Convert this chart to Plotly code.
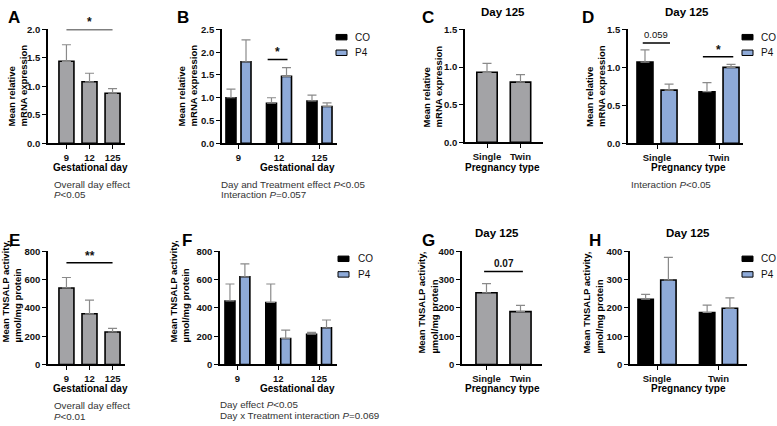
import plotly.graph_objects as go

W, H = 777, 426

# ---------------- data ----------------
days = ["9", "12", "125"]
preg = ["Single", "Twin"]

A_mean = [1.44, 1.08, 0.88]
A_sem = [0.29, 0.15, 0.08]

B_co_mean = [1.00, 0.88, 0.93]
B_co_sem = [0.19, 0.12, 0.13]
B_p4_mean = [1.79, 1.47, 0.81]
B_p4_sem = [0.48, 0.19, 0.08]

C_mean = [0.93, 0.80]
C_sem = [0.12, 0.10]

D_co_mean = [1.07, 0.68]
D_co_sem = [0.16, 0.12]
D_p4_mean = [0.70, 1.00]
D_p4_sem = [0.08, 0.04]

E_mean = [542, 359, 230]
E_sem = [74, 96, 25]

F_co_mean = [450, 439, 214]
F_co_sem = [120, 131, 14]
F_p4_mean = [621, 184, 260]
F_p4_sem = [92, 60, 55]

G_mean = [254, 187]
G_sem = [32, 22]

H_co_mean = [231, 184]
H_co_sem = [17, 26]
H_p4_mean = [299, 199]
H_p4_sem = [80, 37]

# significance bars: (panel, x0, x1, y, label, bold, size)
sig_bars = [
    ("A", 0.0, 2.0, 2.0, "*", True, 12),
    ("B", 0.72, 1.21, 1.84, "*", True, 12),
    ("D", -0.23, 0.21, 1.32, "0.059", False, 9.5),
    ("D", 0.74, 1.23, 1.14, "*", True, 12),
    ("E", 0.0, 2.0, 720, "**", True, 12),
    ("G", -0.07, 1.07, 329, "0.07", True, 10),
]

GREY = "#a3a3a6"
BLUE = "#8eaad8"
BLACK = "#000000"
ERR = "#8a8a8a"
FONT = "Liberation Sans, Arial, sans-serif"

# ---------------- layout geometry (pixels) ----------------
# name: (x0, x1, ytop, ybottom, xrange, ymax, dtick, tickformat, categories)
panels = {
    "A": (48, 125, 24, 141, [-0.8, 2.54], 2.0, 0.5, ".1f", days),
    "B": (222, 337, 24, 141, [-0.407, 2.432], 2.5, 0.5, ".1f", days),
    "C": (465, 543, 24, 140, [-0.657, 1.672], 1.5, 0.5, ".1f", preg),
    "D": (628, 743, 24, 141, [-0.468, 1.387], 1.5, 0.5, ".1f", preg),
    "E": (48, 125, 252, 368, [-0.8, 2.54], 800, 200, "d", days),
    "F": (220, 337, 252, 368, [-0.427, 2.44], 800, 200, "d", days),
    "G": (462, 542, 252, 368, [-0.72, 1.632], 400, 100, "d", preg),
    "H": (630, 747, 252, 368, [-0.439, 1.463], 400, 100, "d", preg),
}
order = ["A", "B", "C", "D", "E", "F", "G", "H"]
axis_idx = {k: i + 1 for i, k in enumerate(order)}


def axnames(k):
    i = axis_idx[k]
    return ("x" if i == 1 else f"x{i}"), ("y" if i == 1 else f"y{i}")


fig = go.Figure()


def add_bar(k, mean, sem, color, offset, width, name):
    xa, ya = axnames(k)
    cats = panels[k][8]
    fig.add_trace(go.Bar(
        x=list(range(len(cats))), y=mean, xaxis=xa, yaxis=ya, name=name,
        showlegend=False,
        marker=dict(color=color, line=dict(color=BLACK, width=1.6)),
        offset=offset, width=width,
        error_y=dict(type="data", symmetric=False, array=sem,
                     arrayminus=[0] * len(sem), color=ERR, thickness=1.2, width=4.5),
    ))


add_bar("A", A_mean, A_sem, GREY, -0.325, 0.65, "A")
add_bar("B", B_co_mean, B_co_sem, BLACK, -0.309, 0.247, "CO")
add_bar("B", B_p4_mean, B_p4_sem, BLUE, 0.062, 0.247, "P4")
add_bar("C", C_mean, C_sem, GREY, -0.305, 0.61, "C")
add_bar("D", D_co_mean, D_co_sem, BLACK, -0.323, 0.258, "CO")
add_bar("D", D_p4_mean, D_p4_sem, BLUE, 0.065, 0.258, "P4")
add_bar("E", E_mean, E_sem, GREY, -0.325, 0.65, "E")
add_bar("F", F_co_mean, F_co_sem, BLACK, -0.305, 0.244, "CO")
add_bar("F", F_p4_mean, F_p4_sem, BLUE, 0.061, 0.244, "P4")
add_bar("G", G_mean, G_sem, GREY, -0.31, 0.62, "G")
add_bar("H", H_co_mean, H_co_sem, BLACK, -0.31, 0.25, "CO")
add_bar("H", H_p4_mean, H_p4_sem, BLUE, 0.06, 0.25, "P4")

annotations = []


def ann(xp, yp, text, size=10, bold=False, xanchor="center", yanchor="middle",
        angle=0, color="#000000"):
    t = f"<b>{text}</b>" if bold else text
    annotations.append(dict(
        x=xp / W, y=1 - yp / H, xref="paper", yref="paper", text=t,
        showarrow=False, xanchor=xanchor, yanchor=yanchor, textangle=angle,
        font=dict(family=FONT, size=size, color=color), align="left",
    ))


# significance bars as line traces
for k, x0, x1, yv, lab, bold, size in sig_bars:
    xa, ya = axnames(k)
    fig.add_trace(go.Scatter(
        x=[x0, x1], y=[yv, yv], xaxis=xa, yaxis=ya, mode="lines",
        line=dict(color=BLACK, width=1.6), cliponaxis=False,
        showlegend=False, hoverinfo="skip"))
    annotations.append(dict(
        x=(x0 + x1) / 2, y=yv, xref=xa, yref=ya,
        text=(f"<b>{lab}</b>" if bold else lab),
        showarrow=False, yanchor="bottom", yshift=-2 if lab.startswith("*") else 1,
        font=dict(family=FONT, size=size, color="#111")))

# axes
layout = dict(
    width=W, height=H, autosize=False, margin=dict(l=0, r=0, t=0, b=0, pad=0),
    paper_bgcolor="white", plot_bgcolor="white", barmode="overlay",
    showlegend=False, font=dict(family=FONT, color="#111"),
)
for k in order:
    x0, x1, yt, yb, xr, ymax, dt, tf, cats = panels[k]
    i = axis_idx[k]
    xkey = "xaxis" if i == 1 else f"xaxis{i}"
    ykey = "yaxis" if i == 1 else f"yaxis{i}"
    xa, ya = axnames(k)
    layout[xkey] = dict(
        domain=[x0 / W, x1 / W], anchor=ya, range=xr,
        tickmode="array", tickvals=list(range(len(cats))), ticktext=cats,
        showline=True, linecolor=BLACK, linewidth=1.6, showgrid=False,
        ticks="outside", ticklen=4, tickwidth=1.4, tickcolor=BLACK,
        tickfont=dict(family=FONT, size=9.5, color="#111", weight="bold"),
        zeroline=False, fixedrange=True,
    )
    layout[ykey] = dict(
        domain=[1 - yb / H, 1 - yt / H], anchor=xa, range=[0, ymax],
        dtick=dt, tick0=0, tickformat=tf,
        showline=True, linecolor=BLACK, linewidth=1.6, showgrid=False,
        ticks="outside", ticklen=4, tickwidth=1.4, tickcolor=BLACK,
        tickfont=dict(family=FONT, size=9.5, color="#111", weight="bold"),
        zeroline=False, fixedrange=True,
    )

# panel letters
for lab, xp, yp in [("A", 14, 12), ("B", 183, 12), ("C", 428, 12), ("D", 588, 12),
                    ("E", 14, 241), ("F", 187, 241), ("G", 428, 241), ("H", 595, 241)]:
    ann(xp, yp, lab, size=17, bold=True)

# titles
for xp, yp in [(503, 6), (687, 6), (497, 233), (688, 233)]:
    ann(xp, yp, "Day 125", size=11.5, bold=True)

# y-axis titles
mrna = "Mean relative<br>mRNA expression"
tns = "Mean TNSALP activity,<br>µmol/mg protein"
for xp, yp, t in [(17.5, 82, mrna), (187.5, 82, mrna), (432.5, 82, mrna), (596, 82, mrna),
                  (11, 293, tns), (179, 293, tns), (427.5, 305, tns), (592.5, 305, tns)]:
    ann(xp, yp, t, size=9.5, bold=True, angle=-90)

# x-axis titles
for xp, yp, t in [(90, 166, "Gestational day"), (297, 166, "Gestational day"),
                  (502, 166, "Pregnancy type"), (688, 166, "Pregnancy type"),
                  (90, 393, "Gestational day"), (297, 393, "Gestational day"),
                  (502, 393, "Pregnancy type"), (688, 393, "Pregnancy type")]:
    ann(xp, yp, t, size=10, bold=True)

# statistical notes
NOTE = "#333333"
notes = [
    (52, 183, "Overall day effect"), (52, 194, "<i>P</i><0.05"),
    (219, 183, "Day and Treatment effect <i>P</i><0.05"), (219, 194, "Interaction <i>P</i>=0.057"),
    (629, 183, "Interaction <i>P</i><0.05"),
    (52, 410, "Overall day effect"), (52, 421, "<i>P</i><0.01"),
    (218, 409, "Day effect <i>P</i><0.05"), (218, 420, "Day x Treatment interaction <i>P</i>=0.069"),
]
for xp, yp, t in notes:
    ann(xp, yp, t, size=9.8, xanchor="left", color=NOTE)

# legends (swatches + labels)
shapes = []
for bx, by, tx in [(336, 32, 353), (742, 32, 759), (338, 259.5, 356), (742, 259.5, 759)]:
    for j, (col, lab) in enumerate([(BLACK, "CO"), (BLUE, "P4")]):
        yy = by + j * 16
        shapes.append(dict(type="rect", xref="paper", yref="paper",
                           x0=bx / W, x1=(bx + 11) / W,
                           y0=1 - (yy + 2.8) / H, y1=1 - (yy - 2.8) / H,
                           fillcolor=col, line=dict(color=BLACK, width=1)))
        ann(tx, yy, lab, size=10, xanchor="left", color="#111")

layout["shapes"] = shapes
layout["annotations"] = annotations
fig.update_layout(**layout)
fig.write_html(
    "out.html",
    config={"responsive": False, "displayModeBar": False},
    post_script="document.body.style.margin='0';document.body.style.overflow='hidden';",
)
